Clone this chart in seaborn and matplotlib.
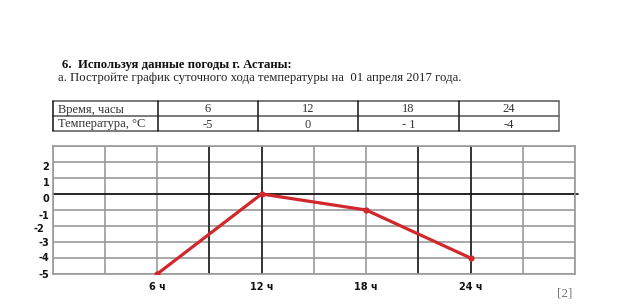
import matplotlib
matplotlib.use("Agg")
import matplotlib.pyplot as plt
import matplotlib.transforms as mtransforms
import seaborn as sns
import pandas as pd
from matplotlib.lines import Line2D

# ---- data ----
hours = [6, 12, 18, 24]
temps = [-5, 0, -1, -4]
hour_labels = ["6 ч", "12 ч", "18 ч", "24 ч"]
y_tick_values = [-5, -4, -3, -2, -1, 0, 1, 2]
table_row_titles = ["Время, часы", "Температура, °C"]
table_temp_labels = ["-5", "0", "- 1", "-4"]
title1 = "6.  Используя данные погоды г. Астаны:"
title2 = "а. Постройте график суточного хода температуры на  01 апреля 2017 года."
score_text = "[2]"

sns.set_theme(style="white")
plt.rcParams['font.family'] = ['DejaVu Sans']

W, H = 626, 304
fig = plt.figure(figsize=(W / 100, H / 100), dpi=100)
fig.patch.set_facecolor('white')


def fx(px):
    return px / W


def fy(py):
    return 1 - py / H


serif = ['Liberation Serif', 'DejaVu Serif']

# ---- headings ----
fig.text(fx(61.5), fy(65), title1, family=serif, weight='bold', fontsize=9.2,
         va='center', ha='left', color='#111')
fig.text(fx(58), fy(78.5), title2, family=serif, fontsize=9.2,
         va='center', ha='left', color='#222')

# ---- table ----
tl, tr = 52.7, 559
rows_y = [100.5, 115.7, 130.7]
col_x = [tl, 158, 258, 358, 459, tr]
for yy in rows_y:
    fig.add_artist(Line2D([fx(tl), fx(tr)], [fy(yy), fy(yy)], color='#555', lw=1.1,
                          transform=fig.transFigure))
for i, xx in enumerate(col_x):
    c = '#666' if i == len(col_x) - 1 else '#151515'
    fig.add_artist(Line2D([fx(xx), fx(xx)], [fy(rows_y[0]), fy(rows_y[-1])], color=c,
                          lw=1.1, transform=fig.transFigure))
row_centers = [109.5, 124.5]
for title, yc in zip(table_row_titles, row_centers):
    fig.text(fx(58), fy(yc), title, family=serif, fontsize=9, va='center', ha='left',
             color='#333')
for i, (h, t) in enumerate(zip(hours, table_temp_labels)):
    xc = (col_x[i + 1] + col_x[i + 2]) / 2
    fig.text(fx(xc), fy(row_centers[0]), str(h), family=serif, fontsize=9,
             va='center', ha='center', color='#333')
    fig.text(fx(xc), fy(row_centers[1]), t, family=serif, fontsize=9,
             va='center', ha='center', color='#333')

# ---- chart ----
ax_l, ax_r, ax_t, ax_b = 52.7, 575, 146, 274
ax = fig.add_axes([fx(ax_l), fy(ax_b), (ax_r - ax_l) / W, (ax_b - ax_t) / H])
ax.set_facecolor('white')

df = pd.DataFrame({'hour': hours, 'temp': temps})
sns.lineplot(data=df, x='hour', y='temp', ax=ax, color='#d0282c', lw=2.3,
             marker='o', markersize=4.5, markeredgewidth=0, zorder=5)

ax.set_xlim(0, 30)
ax.set_ylim(-5, 3)
xt = list(range(0, 31, 3))
ax.set_xticks(xt)
lab_map = dict(zip(hours, hour_labels))
ax.set_xticklabels([lab_map.get(x, '') for x in xt])
yt = list(range(-5, 4))
ax.set_yticks(yt)
ax.set_yticklabels([str(v) if v in y_tick_values else '' for v in yt])
ax.set_xlabel('')
ax.set_ylabel('')

ax.grid(True, color='#9a9a9a', lw=1.2)
ax.set_axisbelow(True)
for x in [9, 12, 21, 24]:
    ax.axvline(x, color='#151515', lw=1.1, zorder=1.5)
ax.axhline(0, xmin=0, xmax=1.006, color='#111', lw=1.2, zorder=1.6, clip_on=False)

for s in ax.spines.values():
    s.set_color('#9a9a9a')
    s.set_linewidth(1.2)

ax.tick_params(axis='both', length=0, labelsize=7, colors='#111')
ax.tick_params(axis='y', pad=2.5)
ax.tick_params(axis='x', pad=6)
for lab in ax.get_xticklabels() + ax.get_yticklabels():
    lab.set_fontweight('bold')

# small hand-placed offsets of the y labels as in the scanned worksheet
# (dx: pixels to the right, down: pixels downward on the page)
label_shift = {2: (0, 4.5), 1: (0, 4), 0: (0, 3.5), -1: (0, 5),
               -2: (-5, 1.5), -3: (0, 0), -4: (0, -1), -5: (0, 0)}
for tick in ax.yaxis.get_major_ticks():
    v = int(round(tick.get_loc()))
    if v in label_shift:
        dx, down = label_shift[v]
        off = mtransforms.ScaledTranslation(dx / 100, -down / 100, fig.dpi_scale_trans)
        tick.label1.set_transform(tick.label1.get_transform() + off)

fig.text(fx(565), fy(293), score_text, family=serif, fontsize=9.5, va='center',
         ha='center', color='#777')

fig.savefig('out.png', dpi=100)
